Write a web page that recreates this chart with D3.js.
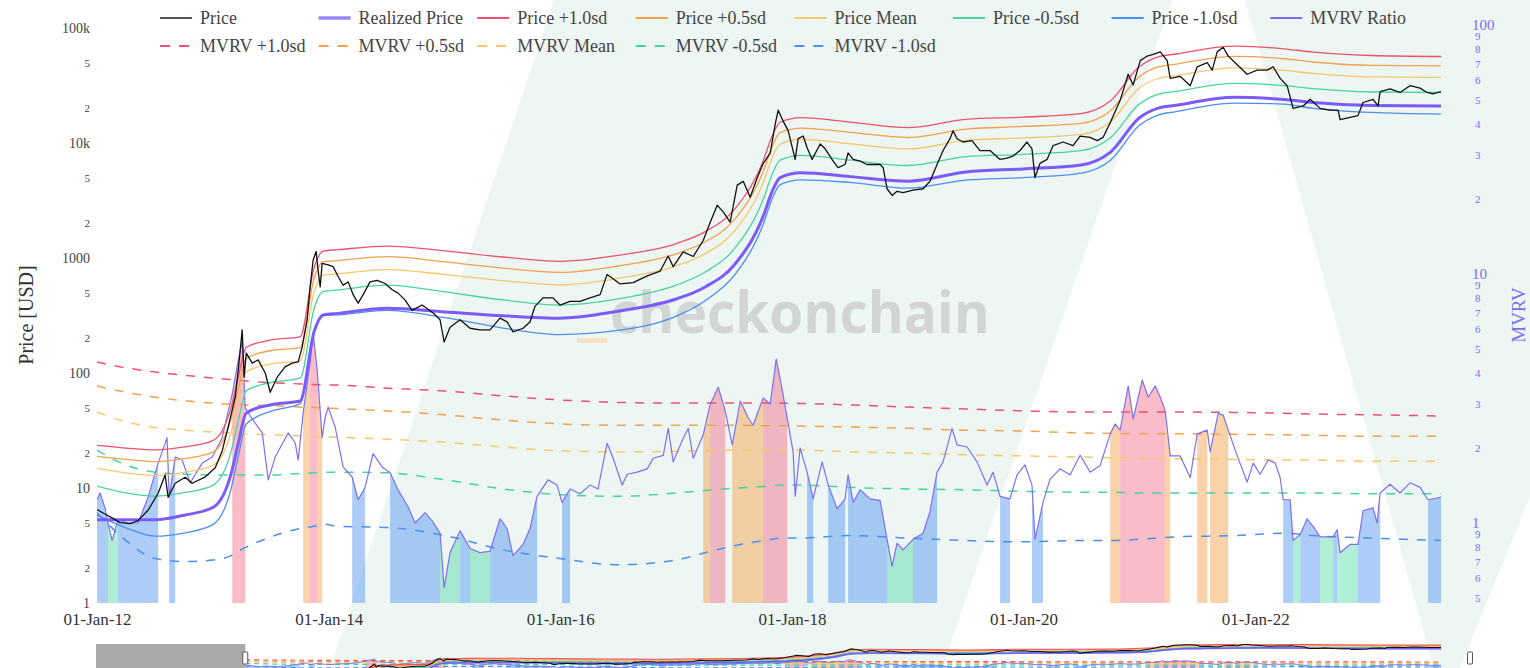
<!DOCTYPE html>
<html>
<head>
<meta charset="utf-8">
<script src="https://cdn.jsdelivr.net/npm/d3@7"></script>
<style>
  html, body { margin: 0; padding: 0; background: #fff; }
  svg { display: block; font-family: "Liberation Serif", "Times New Roman", serif; }
</style>
</head>
<body>
<svg id="chart" width="1530" height="668"></svg>
<script>
// ---- data (decimal year, value) ----
var priceSeries = [
  [2012.000,6.5],[2012.060,6.0],[2012.130,5.5],[2012.199,5.0],[2012.285,4.9],[2012.354,5.2],[2012.440,6.4],[2012.527,9.0],
  [2012.587,13],[2012.613,8.3],[2012.674,11],[2012.760,12.4],[2012.820,11],[2012.933,12.5],[2013.019,15],[2013.079,21],
  [2013.131,34],[2013.192,62],[2013.218,106],[2013.252,237],[2013.269,92],[2013.287,149],[2013.339,122],[2013.390,130],
  [2013.451,100],[2013.494,68],[2013.554,92],[2013.623,113],[2013.684,122],[2013.736,125],[2013.770,168],[2013.813,290],
  [2013.839,560],[2013.865,960],[2013.891,1140],[2013.908,780],[2013.926,560],[2013.943,900],[2013.995,870],[2014.038,840],
  [2014.081,690],[2014.124,580],[2014.168,620],[2014.211,480],[2014.254,405],[2014.297,480],[2014.357,620],[2014.418,640],
  [2014.487,600],[2014.548,530],[2014.599,495],[2014.660,430],[2014.720,350],[2014.807,390],[2014.902,333],[2014.962,290],
  [2014.997,186],[2015.048,250],[2015.135,290],[2015.221,245],[2015.307,237],[2015.394,237],[2015.480,300],[2015.541,278],
  [2015.592,228],[2015.679,245],[2015.739,278],[2015.782,380],[2015.851,450],[2015.938,450],[2015.998,390],[2016.085,420],
  [2016.171,420],[2016.257,450],[2016.344,480],[2016.404,720],[2016.456,660],[2016.516,595],[2016.629,610],[2016.750,700],
  [2016.862,770],[2016.931,1040],[2016.974,840],[2017.060,1130],[2017.147,1030],[2017.233,1420],[2017.294,2050],[2017.354,2880],
  [2017.406,2520],[2017.466,2050],[2017.527,4300],[2017.579,4640],[2017.639,3380],[2017.700,4990],[2017.751,6630],[2017.812,8180],
  [2017.855,14500],[2017.881,19300],[2017.924,15500],[2017.967,12800],[2018.028,7200],[2018.054,10900],[2018.097,11500],[2018.131,9100],
  [2018.174,7200],[2018.244,9800],[2018.287,8900],[2018.356,6950],[2018.399,6100],[2018.459,6500],[2018.485,8200],[2018.529,7200],
  [2018.589,6950],[2018.649,6500],[2018.762,6500],[2018.788,6100],[2018.822,4000],[2018.865,3500],[2018.908,3800],[2018.960,3700],
  [2019.047,3900],[2019.133,4000],[2019.193,4650],[2019.254,6500],[2019.306,8600],[2019.366,10900],[2019.392,12800],[2019.427,10900],
  [2019.478,10200],[2019.556,10500],[2019.625,8600],[2019.712,8600],[2019.798,7200],[2019.858,7400],[2019.910,7700],[2019.971,8600],
  [2020.031,10200],[2020.074,8900],[2020.100,5000],[2020.143,6650],[2020.204,7200],[2020.256,9500],[2020.342,10200],[2020.428,9500],
  [2020.489,11500],[2020.575,11200],[2020.636,10500],[2020.687,11200],[2020.748,15000],[2020.834,23500],[2020.903,39600],[2020.946,32000],
  [2021.007,52000],[2021.067,57000],[2021.119,59000],[2021.180,62000],[2021.240,52000],[2021.266,36500],[2021.352,38000],[2021.439,31500],
  [2021.499,46000],[2021.586,50000],[2021.629,43000],[2021.672,62000],[2021.724,68000],[2021.767,57000],[2021.845,48000],[2021.931,39600],
  [2022.017,43000],[2022.104,43000],[2022.155,46000],[2022.216,36500],[2022.276,31500],[2022.328,20000],[2022.415,21000],[2022.475,24000],
  [2022.561,20000],[2022.648,19300],[2022.717,19300],[2022.734,16000],[2022.820,16700],[2022.889,17300],[2022.932,22500],[2023.019,24000],
  [2023.062,21000],[2023.080,28000],[2023.166,29500],[2023.252,27500],[2023.338,31500],[2023.425,30000],[2023.485,27500],[2023.537,26800],
  [2023.606,28000]
];

var mvrvSeries = [
  [2012.000,1.24],[2012.026,1.32],[2012.069,1.15],[2012.095,1.0],[2012.130,0.85],[2012.181,1.03],[2012.268,1.0],[2012.354,1.0],
  [2012.440,1.27],[2012.527,1.74],[2012.604,2.2],[2012.622,1.27],[2012.674,1.84],[2012.734,1.79],[2012.803,1.45],[2012.907,1.74],
  [2012.993,1.84],[2013.079,2.2],[2013.166,3.3],[2013.218,4.5],[2013.252,5.4],[2013.278,2.9],[2013.304,2.77],[2013.364,2.52],
  [2013.425,2.3],[2013.477,1.49],[2013.537,1.84],[2013.649,2.3],[2013.710,2.1],[2013.736,1.79],[2013.779,2.77],[2013.839,4.4],
  [2013.865,5.8],[2013.900,4.1],[2013.943,2.2],[2013.969,2.66],[2013.995,2.92],[2014.055,2.43],[2014.124,1.68],[2014.202,1.53],
  [2014.254,1.24],[2014.314,1.39],[2014.383,1.9],[2014.461,1.68],[2014.530,1.59],[2014.599,1.36],[2014.686,1.16],[2014.746,1.0],
  [2014.832,1.1],[2014.893,1.02],[2014.962,0.91],[2014.997,0.55],[2015.048,0.76],[2015.135,0.93],[2015.221,0.79],[2015.307,0.76],
  [2015.394,0.77],[2015.480,1.04],[2015.541,0.95],[2015.592,0.74],[2015.679,0.82],[2015.739,0.95],[2015.800,1.28],[2015.895,1.49],
  [2015.972,1.42],[2016.016,1.21],[2016.085,1.37],[2016.171,1.31],[2016.257,1.42],[2016.326,1.37],[2016.404,2.09],[2016.456,1.82],
  [2016.534,1.42],[2016.577,1.57],[2016.663,1.6],[2016.750,1.65],[2016.801,1.82],[2016.888,1.87],[2016.931,2.4],[2016.974,1.76],
  [2017.060,2.19],[2017.104,2.4],[2017.147,1.82],[2017.233,2.26],[2017.294,3.0],[2017.363,3.51],[2017.423,2.82],[2017.484,2.06],
  [2017.553,3.09],[2017.622,2.64],[2017.665,2.47],[2017.700,2.74],[2017.751,3.18],[2017.812,3.0],[2017.864,4.55],[2017.907,3.6],
  [2017.959,2.64],[2018.010,1.93],[2018.028,1.28],[2018.071,2.0],[2018.131,1.6],[2018.183,1.25],[2018.261,1.76],[2018.313,1.42],
  [2018.390,1.14],[2018.459,1.25],[2018.485,1.56],[2018.529,1.21],[2018.589,1.36],[2018.675,1.25],[2018.762,1.23],[2018.822,0.86],
  [2018.865,0.67],[2018.908,0.83],[2018.960,0.78],[2019.047,0.86],[2019.133,0.91],[2019.193,1.11],[2019.254,1.6],[2019.306,1.76],
  [2019.383,2.4],[2019.427,2.06],[2019.513,2.02],[2019.599,1.76],[2019.686,1.42],[2019.737,1.6],[2019.798,1.28],[2019.884,1.25],
  [2019.945,1.56],[2020.014,1.71],[2020.074,1.42],[2020.100,0.86],[2020.169,1.21],[2020.230,1.5],[2020.316,1.65],[2020.402,1.56],
  [2020.489,1.87],[2020.575,1.6],[2020.661,1.7],[2020.748,2.28],[2020.791,2.5],[2020.834,2.36],[2020.903,3.55],[2020.946,2.62],
  [2021.024,3.75],[2021.076,3.2],[2021.136,3.55],[2021.180,3.2],[2021.223,2.82],[2021.266,1.86],[2021.352,1.86],[2021.439,1.52],
  [2021.499,2.28],[2021.586,2.36],[2021.611,1.93],[2021.680,2.75],[2021.724,2.71],[2021.767,2.36],[2021.845,1.86],[2021.931,1.46],
  [2021.983,1.74],[2022.043,1.57],[2022.112,1.79],[2022.173,1.74],[2022.216,1.52],[2022.242,1.24],[2022.302,1.24],[2022.328,0.85],
  [2022.389,0.9],[2022.449,1.04],[2022.501,0.97],[2022.561,0.88],[2022.674,0.88],[2022.708,0.94],[2022.734,0.76],[2022.820,0.82],
  [2022.889,0.82],[2022.932,1.12],[2023.019,1.15],[2023.054,1.0],[2023.080,1.32],[2023.166,1.43],[2023.252,1.32],[2023.338,1.45],
  [2023.425,1.39],[2023.494,1.24],[2023.572,1.26],[2023.606,1.27]
];

// smooth series, all on the same dates
var bandYears = [2012.000,2012.250,2012.501,2012.751,2013.002,2013.157,2013.218,2013.287,2013.503,2013.753,
  2013.874,2013.952,2014.081,2014.504,2015.005,2015.506,2015.998,2016.499,2017.000,2017.250,
  2017.501,2017.751,2017.829,2017.898,2018.079,2018.503,2019.003,2019.504,2019.997,2020.497,
  2020.748,2020.998,2021.154,2021.318,2021.819,2022.250,2022.501,2023.002,2023.606];
var realizedPrice = [5.3,5.3,5.3,5.8,6.8,13.4,24.5,45,53,57,
  230,320,330,365,340,315,300,345,440,560,
  870,2300,3800,5000,5500,5100,4650,5600,5950,6450,
  8300,16500,20000,21300,25000,23900,22500,21200,21000];
var mvrvPlus1 = [4.43,4.20,4.04,3.92,3.82,3.77,3.75,3.72,3.66,3.62,
  3.60,3.59,3.58,3.48,3.39,3.24,3.12,3.05,3.03,3.03,
  3.03,3.03,3.03,3.03,3.02,2.98,2.92,2.87,2.82,2.79,
  2.79,2.79,2.79,2.79,2.78,2.76,2.74,2.72,2.69];
var mvrvPlus05 = [3.55,3.35,3.20,3.10,3.03,3.00,2.99,2.98,2.96,2.92,
  2.91,2.90,2.88,2.82,2.72,2.59,2.50,2.47,2.47,2.47,
  2.47,2.46,2.46,2.46,2.45,2.43,2.40,2.36,2.34,2.30,
  2.29,2.28,2.28,2.28,2.27,2.26,2.25,2.23,2.23];
var mvrvMean = [2.79,2.55,2.42,2.36,2.32,2.30,2.29,2.28,2.26,2.24,
  2.23,2.22,2.21,2.17,2.11,2.02,1.95,1.93,1.94,1.95,
  1.96,1.96,1.96,1.96,1.96,1.93,1.91,1.88,1.86,1.84,
  1.83,1.82,1.81,1.81,1.80,1.79,1.79,1.77,1.77];
var mvrvMinus05 = [1.96,1.71,1.60,1.57,1.56,1.56,1.56,1.56,1.56,1.58,
  1.59,1.60,1.60,1.59,1.49,1.37,1.30,1.28,1.32,1.35,
  1.38,1.40,1.41,1.42,1.42,1.39,1.37,1.36,1.34,1.33,
  1.33,1.32,1.32,1.32,1.32,1.32,1.32,1.31,1.31];
var mvrvMinus1 = [1.10,0.85,0.72,0.70,0.71,0.74,0.77,0.80,0.88,0.95,
  0.97,0.99,0.97,0.96,0.89,0.78,0.72,0.68,0.71,0.76,
  0.81,0.85,0.86,0.87,0.87,0.89,0.87,0.85,0.84,0.85,
  0.85,0.86,0.87,0.88,0.89,0.91,0.89,0.87,0.85];

var XTICKS = [2012, 2014, 2016, 2018, 2020, 2022];
var PRICE_TICKS = [1,2,5,10,20,50,100,200,500,1000,2000,5000,1e4,2e4,5e4,1e5];
var MVRV_TICKS = [0.5,0.6,0.7,0.8,0.9,1,2,3,4,5,6,7,8,9,10,20,30,40,50,60,70,80,90,100];

// ---- layout / style ----
var PLOT = {'left': 97, 'right': 1441, 'top': 0, 'bottom': 603};
var SLIDER = {'top': 644, 'bottom': 668};
var COL = {
  'price': '#111111', 'realized': '#7b5cfb', 'mvrv': '#7f6ff3',
  'p1': '#f0506e', 'p05': '#f5a04a', 'mean': '#f6c76c', 'm05': '#45d69c', 'm1': '#4a90f0'
};
var FILL = {
  'red': 'rgba(240,80,110,0.38)', 'orange': 'rgba(245,155,65,0.45)',
  'blue': 'rgba(74,144,240,0.45)', 'green': 'rgba(61,213,152,0.40)'
};
var AXISPURPLE = '#7a6cf0';

function yearToDate(t) {
  var yr = Math.floor(t);
  var a = Date.UTC(yr, 0, 1), b = Date.UTC(yr + 1, 0, 1);
  return new Date(a + (t - yr) * (b - a));
}

var svg = d3.select('#chart');

// background logo shapes (watermark)
var bgShapes = [
  [[554,0],[1172,0],[942,668],[330,668]],
  [[1245,0],[1530,0],[1530,497],[1460,668],[1434,668]]
];
svg.append('g').selectAll('path').data(bgShapes).join('path')
  .attr('d', function(d) { return 'M' + d.join('L') + 'Z'; })
  .attr('fill', '#edf6f3');

svg.append('rect').attr('x', 577).attr('y', 338).attr('width', 30).attr('height', 5).attr('fill', '#f4e2c2');
svg.append('text').attr('x', 610).attr('y', 333)
  .attr('textLength', 380).attr('lengthAdjust', 'spacingAndGlyphs')
  .style('font-family', '"Open Sans", "DejaVu Sans", sans-serif').style('font-weight', 700)
  .style('font-size', '58px').attr('fill', '#d2d5d5').text('checkonchain');

var defs = svg.append('defs');
defs.append('clipPath').attr('id', 'clipMain').append('rect')
  .attr('x', PLOT.left).attr('y', PLOT.top).attr('width', PLOT.right - PLOT.left).attr('height', PLOT.bottom - PLOT.top);
defs.append('clipPath').attr('id', 'clipSlider').append('rect')
  .attr('x', PLOT.left).attr('y', SLIDER.top).attr('width', PLOT.right - PLOT.left).attr('height', SLIDER.bottom - SLIDER.top);

// ---- scales ----
var x = d3.scaleUtc().domain([yearToDate(2012), yearToDate(2023.606)]).range([PLOT.left, PLOT.right]);
var y = d3.scaleLog().domain([1, 1e5]).range([603, 28]);
var y2 = d3.scaleLog().domain([1, 100]).range([523, 25]);

var xs = d3.scaleUtc().domain([yearToDate(2010.56), yearToDate(2023.606)]).range([PLOT.left, PLOT.right]);
var ys = d3.scaleLog().domain([1, 1e5]).range([683, 643]);
var ys2 = d3.scaleLog().domain([1, 10]).range([666.3, 656.3]);

// ---- derived pieces ----
var bandDates = bandYears.map(yearToDate);
var mvrvBands = [
  {'key': 'p1', 'name': 'MVRV +1.0sd', 'vals': mvrvPlus1},
  {'key': 'p05', 'name': 'MVRV +0.5sd', 'vals': mvrvPlus05},
  {'key': 'mean', 'name': 'MVRV Mean', 'vals': mvrvMean},
  {'key': 'm05', 'name': 'MVRV -0.5sd', 'vals': mvrvMinus05},
  {'key': 'm1', 'name': 'MVRV -1.0sd', 'vals': mvrvMinus1}
];
var priceBandNames = {'p1': 'Price +1.0sd', 'p05': 'Price +0.5sd', 'mean': 'Price Mean', 'm05': 'Price -0.5sd', 'm1': 'Price -1.0sd'};

var pricePts = priceSeries.map(function(d) { return [yearToDate(d[0]), d[1]]; });
var mvrvPts = mvrvSeries.map(function(d) { return [yearToDate(d[0]), d[1]]; });
var realizedPts = bandDates.map(function(d, i) { return [d, realizedPrice[i]]; });

// zone of each MVRV segment against the bands -> coloured fills
function bandScale(arr) { return d3.scaleLinear().domain(bandYears).range(arr).clamp(true); }
var bP1 = bandScale(mvrvPlus1), bP05 = bandScale(mvrvPlus05), bM05 = bandScale(mvrvMinus05), bM1 = bandScale(mvrvMinus1);
function zoneAt(i) {
  var t = (mvrvSeries[i][0] + mvrvSeries[i + 1][0]) / 2;
  var m = Math.sqrt(mvrvSeries[i][1] * mvrvSeries[i + 1][1]);
  if (m > bP1(t)) return 'red';
  if (m > bP05(t)) return 'orange';
  if (m < bM1(t)) return 'green';
  if (m < bM05(t)) return 'blue';
  return null;
}
var runs = [];
var cur = null;
for (var i = 0; i < mvrvSeries.length - 1; i++) {
  var z = zoneAt(i);
  if (cur && cur.zone === z) { cur.end = i + 1; }
  else {
    if (cur) runs.push(cur);
    cur = z ? {'zone': z, 'start': i, 'end': i + 1} : null;
  }
}
if (cur) runs.push(cur);

function drawPanel(g, sx, sy, sy2, baseY, slim) {
  var lw = slim ? 0.8 : 1;
  // fills under the MVRV ratio
  runs.forEach(function(r) {
    g.append('path').datum(mvrvPts.slice(r.start, r.end + 1))
      .attr('fill', FILL[r.zone])
      .attr('d', d3.area().x(function(d) { return sx(d[0]); }).y0(baseY).y1(function(d) { return sy2(d[1]); }));
  });
  // dashed MVRV bands
  mvrvBands.forEach(function(b) {
    g.append('path').datum(bandDates.map(function(d, k) { return [d, b.vals[k]]; }))
      .attr('fill', 'none').attr('stroke', COL[b.key]).attr('stroke-width', 1.5 * lw)
      .attr('stroke-dasharray', slim ? '5,4' : '9,9')
      .attr('d', d3.line().curve(d3.curveMonotoneX).x(function(d) { return sx(d[0]); }).y(function(d) { return sy2(d[1]); }));
  });
  // MVRV ratio
  g.append('path').datum(mvrvPts)
    .attr('fill', 'none').attr('stroke', COL.mvrv).attr('stroke-width', 1.2 * lw).attr('stroke-linejoin', 'round')
    .attr('d', d3.line().x(function(d) { return sx(d[0]); }).y(function(d) { return sy2(d[1]); }));
  // price bands = realized price x MVRV band
  mvrvBands.slice().reverse().forEach(function(b) {
    g.append('path').datum(bandDates.map(function(d, k) { return [d, realizedPrice[k] * b.vals[k]]; }))
      .attr('fill', 'none').attr('stroke', COL[b.key]).attr('stroke-width', 1.3 * lw)
      .attr('d', d3.line().curve(d3.curveMonotoneX).x(function(d) { return sx(d[0]); }).y(function(d) { return sy(d[1]); }));
  });
  // realized price
  g.append('path').datum(realizedPts)
    .attr('fill', 'none').attr('stroke', COL.realized).attr('stroke-width', slim ? 1.5 : 3)
    .attr('d', d3.line().curve(d3.curveMonotoneX).x(function(d) { return sx(d[0]); }).y(function(d) { return sy(d[1]); }));
  // price
  g.append('path').datum(pricePts)
    .attr('fill', 'none').attr('stroke', COL.price).attr('stroke-width', 1.3 * lw).attr('stroke-linejoin', 'round')
    .attr('d', d3.line().x(function(d) { return sx(d[0]); }).y(function(d) { return sy(d[1]); }));
}

drawPanel(svg.append('g').attr('clip-path', 'url(#clipMain)'), x, y, y2, PLOT.bottom, false);

// ---- range slider ----
var gSlider = svg.append('g').attr('clip-path', 'url(#clipSlider)');
drawPanel(gSlider, xs, ys, ys2, SLIDER.bottom + 2, true);
svg.append('rect').attr('x', 96).attr('y', SLIDER.top).attr('width', xs(yearToDate(2012)) - 96)
  .attr('height', SLIDER.bottom - SLIDER.top).attr('fill', '#a2a2a2').attr('opacity', 0.92);
[xs(yearToDate(2012)), 1470].forEach(function(hx) {
  svg.append('rect').attr('x', hx - 2.5).attr('y', 652).attr('width', 5).attr('height', 12).attr('rx', 1)
    .attr('fill', '#fff').attr('stroke', '#555').attr('stroke-width', 1);
});

// ---- axes ----
var MAJOR_P = [1, 10, 100, 1000, 1e4, 1e5];
function leadDigit(v) { return Math.round(v / Math.pow(10, Math.floor(Math.log10(v) + 1e-9))); }

var gLeft = svg.append('g').attr('transform', 'translate(' + PLOT.left + ',0)')
  .call(d3.axisLeft(y).tickValues(PRICE_TICKS).tickSize(0).tickPadding(7)
    .tickFormat(function(v) {
      if (MAJOR_P.indexOf(v) < 0) return String(leadDigit(v));
      return v >= 1e4 ? (v / 1000) + 'k' : String(v);
    }));
gLeft.select('.domain').remove();
gLeft.selectAll('text')
  .style('font-family', '"Liberation Serif", serif')
  .style('font-size', function(v) { return MAJOR_P.indexOf(v) >= 0 ? '14px' : '11px'; })
  .attr('fill', '#444');

var MAJOR_M = [1, 10, 100];
var gRight = svg.append('g').attr('transform', 'translate(1471,0)')
  .call(d3.axisRight(y2).tickValues(MVRV_TICKS).tickSize(0).tickPadding(1)
    .tickFormat(function(v) { return MAJOR_M.indexOf(v) >= 0 ? String(v) : String(leadDigit(v)); }));
gRight.select('.domain').remove();
gRight.selectAll('text')
  .style('font-family', '"Liberation Serif", serif')
  .style('font-size', function(v) { return MAJOR_M.indexOf(v) >= 0 ? '15px' : '11px'; })
  .attr('x', function(v) { return MAJOR_M.indexOf(v) >= 0 ? 1 : 4; })
  .attr('fill', AXISPURPLE);

var gBottom = svg.append('g').attr('transform', 'translate(0,' + PLOT.bottom + ')')
  .call(d3.axisBottom(x).tickValues(XTICKS.map(function(yr) { return new Date(Date.UTC(yr, 0, 1)); }))
    .tickSize(0).tickPadding(10).tickFormat(d3.utcFormat('%d-%b-%y')));
gBottom.select('.domain').remove();
gBottom.selectAll('text').style('font-family', '"Liberation Serif", serif').style('font-size', '17px').attr('fill', '#333');

svg.append('text').attr('transform', 'translate(33,315) rotate(-90)').attr('text-anchor', 'middle')
  .style('font-size', '20px').attr('fill', '#333').text('Price [USD]');
svg.append('text').attr('transform', 'translate(1525,315) rotate(-90)').attr('text-anchor', 'middle')
  .style('font-size', '19px').attr('fill', AXISPURPLE).text('MVRV');

// ---- legend ----
var legendRow1 = [
  {'name': 'Price', 'color': '#555', 'w': 2},
  {'name': 'Realized Price', 'color': '#9585ff', 'w': 3.5},
  {'name': priceBandNames.p1, 'color': COL.p1, 'w': 2},
  {'name': priceBandNames.p05, 'color': COL.p05, 'w': 2},
  {'name': priceBandNames.mean, 'color': COL.mean, 'w': 2},
  {'name': priceBandNames.m05, 'color': COL.m05, 'w': 2},
  {'name': priceBandNames.m1, 'color': COL.m1, 'w': 2},
  {'name': 'MVRV Ratio', 'color': COL.mvrv, 'w': 2}
];
var legendRow2 = mvrvBands.map(function(b) { return {'name': b.name, 'color': COL[b.key], 'w': 2, 'dash': '10,9'}; });
var gLegend = svg.append('g');
[[legendRow1, 18], [legendRow2, 46]].forEach(function(row) {
  row[0].forEach(function(item, k) {
    var lx = 160 + k * 158.6;
    gLegend.append('line').attr('x1', lx).attr('x2', lx + 32).attr('y1', row[1]).attr('y2', row[1])
      .attr('stroke', item.color).attr('stroke-width', item.w).attr('stroke-dasharray', item.dash || null);
    gLegend.append('text').attr('x', lx + 40).attr('y', row[1] + 6)
      .style('font-size', '18px').attr('fill', '#444').text(item.name);
  });
});
</script>
</body>
</html>
